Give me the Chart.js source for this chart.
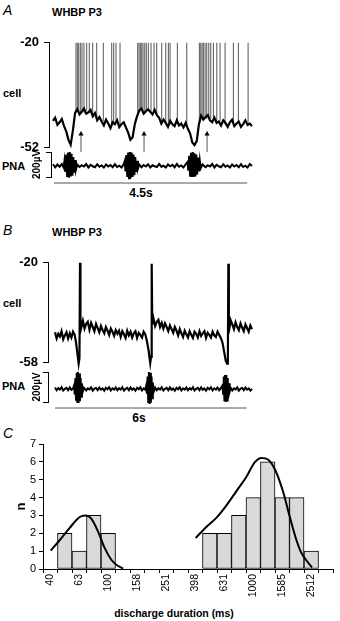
<!DOCTYPE html>
<html><head><meta charset="utf-8">
<script src="https://cdn.jsdelivr.net/npm/chart.js@4.4.1/dist/chart.umd.min.js"></script>
<style>
html,body{margin:0;padding:0;background:#fff;width:340px;height:621px;overflow:hidden;position:relative;font-family:"Liberation Sans",Arial,sans-serif;color:#000}
canvas{position:absolute}
.t{position:absolute;white-space:nowrap;line-height:1;transform:translateY(-50%)}
.c{transform:translate(-50%,-50%)}
.L{font-style:italic;font-size:14px}
.h{font-weight:bold;font-size:11px}
.b{font-weight:bold;font-size:11px}
.s{font-weight:bold;font-size:12px}
</style></head><body>
<div class="t L" style="left:3px;top:10px">A</div>
<div class="t h" style="left:52px;top:12px">WHBP P3</div>
<div class="t b" style="left:3px;top:93px">cell</div>
<div class="t b" style="left:2px;top:166px">PNA</div>
<div class="t s c" style="left:141px;top:193px">4.5s</div>
<div class="t L" style="left:3px;top:230px">B</div>
<div class="t h" style="left:52px;top:232px">WHBP P3</div>
<div class="t b" style="left:3px;top:303px">cell</div>
<div class="t b" style="left:2px;top:386px">PNA</div>
<div class="t s c" style="left:139px;top:418px">6s</div>
<div class="t L" style="left:3px;top:433px">C</div>
<div class="t c" style="left:174px;top:613px;font-weight:bold;font-size:10.5px">discharge duration (ms)</div>

<canvas id="cA" width="260" height="130" style="left:0;top:30px"></canvas>
<canvas id="pA" width="260" height="60" style="left:0;top:140px"></canvas>
<canvas id="cB" width="260" height="125" style="left:0;top:250px"></canvas>
<canvas id="pB" width="260" height="60" style="left:0;top:360px"></canvas>
<canvas id="cC" width="340" height="196" style="left:0;top:425px"></canvas>
<script>
// ---------- Panel A data (time in s, membrane potential in mV, PNA in uV) ----------
const tA = [0,0.05,0.1,0.15,0.2,0.25,0.3,0.35,0.4,0.45,0.5,0.55,0.6,0.65,0.7,0.75,0.8,0.85,0.9,0.95,
1,1.05,1.1,1.15,1.2,1.25,1.3,1.35,1.4,1.45,1.5,1.55,1.6,1.65,1.7,1.75,1.8,1.85,1.9,1.95,
2,2.05,2.1,2.15,2.2,2.25,2.3,2.35,2.4,2.45,2.5,2.55,2.6,2.65,2.7,2.75,2.8,2.85,2.9,2.95,
3,3.05,3.1,3.15,3.2,3.25,3.3,3.35,3.4,3.45,3.5,3.55,3.6,3.65,3.7,3.75,3.8,3.85,3.9,3.95,
4,4.05,4.1,4.15,4.2,4.25,4.3,4.35,4.4,4.45,4.5];
const cellA = [-44.0,-43.0,-45.2,-44.4,-43.4,-45.6,-47.2,-49.8,-51.3,-47.0,-41.5,-40.4,-42.0,-41.2,-40.2,-41.8,-41.4,-40.6,-42.6,-41.6,
-43.8,-42.8,-44.2,-45.4,-43.6,-44.8,-46.2,-44.4,-45.0,-43.8,-45.9,-45.0,-44.4,-46.0,-47.6,-49.8,-49.0,-45.0,-42.6,-40.8,
-40.2,-41.8,-41.0,-40.4,-41.2,-42.0,-40.6,-42.2,-43.0,-44.8,-43.6,-44.6,-45.8,-44.0,-45.0,-45.6,-43.8,-45.4,-44.8,-46.0,
-44.6,-46.4,-47.8,-50.6,-51.4,-50.2,-45.0,-42.4,-43.6,-42.8,-42.2,-43.8,-44.4,-43.0,-44.6,-44.2,-45.4,-43.8,-44.6,-45.8,
-44.4,-43.6,-45.6,-44.8,-44.2,-45.8,-45.0,-43.8,-45.2,-44.8,-45.6];
const spikesA_t = [0.520,0.550,0.581,0.618,0.656,0.701,0.762,0.821,0.898,0.989,1.138,1.328,1.373,1.425,1.516,
1.916,1.946,1.975,2.007,2.036,2.075,2.111,2.156,2.217,2.285,2.346,2.459,2.550,2.609,2.647,2.812,3.025,
3.310,3.342,3.371,3.400,3.439,3.477,3.523,3.568,3.627,3.704,3.778,3.891,4.079,4.192,4.412];
const spikesA_base = [-41.5,-41,-41.2,-41.5,-40.8,-41.4,-41,-41.5,-42.4,-43.2,-44.2,-45,-44.8,-44.5,-45.2,
-42,-41.2,-41,-40.6,-41,-41,-40.6,-41,-41,-41.2,-41.8,-44,-45,-44.4,-45,-44.8,-45.5,
-44.5,-43,-43,-43.2,-42.6,-43.4,-43.2,-43.2,-43.5,-44.2,-44,-45,-44.8,-44.6,-45];
const spikeTopA = -20;
const arrowsA_t = [0.633,2.059,3.484];
const arrowFromA = -53.5, arrowToA = -48;
const pnaA_t = [0,0.05,0.1,0.15,0.2,0.24,0.26,0.28,0.3,0.32,0.34,0.36,0.38,0.4,0.42,0.44,0.46,0.48,0.5,0.52,
0.55,0.6,0.65,0.7,0.75,0.8,0.85,0.9,0.95,1,1.05,1.1,1.15,1.2,1.25,1.3,1.35,1.4,1.45,1.5,1.55,1.6,
1.62,1.64,1.66,1.68,1.7,1.72,1.74,1.76,1.78,1.8,1.82,1.84,1.86,1.88,1.9,1.92,
1.95,2,2.05,2.1,2.15,2.2,2.25,2.3,2.35,2.4,2.45,2.5,2.55,2.6,2.65,2.7,2.75,2.8,2.85,2.9,2.95,3,
3.04,3.06,3.08,3.1,3.12,3.14,3.16,3.18,3.2,3.22,3.24,3.26,3.28,3.3,3.32,3.34,
3.38,3.45,3.5,3.55,3.6,3.65,3.7,3.75,3.8,3.85,3.9,3.95,4,4.05,4.1,4.15,4.2,4.25,4.3,4.35,4.4,4.45,4.5];
const pnaA_v = [2,-22,0,-18,4,-24,
30,-60,80,-100,95,-105,100,-95,85,-90,60,-65,35,-40,
0,-20,-6,-16,4,-24,-2,-14,-22,2,-18,-8,-24,0,-16,-4,-22,2,-20,-10,-24,4,
25,-55,75,-100,95,-110,100,-105,95,-100,80,-85,60,-60,30,-35,
0,-22,-4,-16,2,-24,-6,-14,-20,4,-18,-10,-24,0,-14,-2,-22,4,-18,-8,-24,2,
20,-50,70,-90,95,-100,100,-100,90,-95,80,-80,55,-55,30,-30,
0,-22,-6,-16,4,-24,-2,-14,-22,2,-18,-8,-24,0,-16,-4,-22,2,-20,-10,-24,4,-12];
const timeBarA = [0.02, 4.39];

// ---------- Panel B data ----------
const cellB_t = [0,0.05,0.1,0.15,0.2,0.25,0.3,0.35,0.4,0.45,0.5,0.55,0.6,0.64,0.68,0.72,0.745,0.762,0.775,0.8,
0.85,0.9,0.95,1,1.05,1.1,1.15,1.2,1.25,1.3,1.35,1.4,1.45,1.5,1.55,1.6,1.65,1.7,1.75,1.8,1.85,1.9,1.95,
2,2.05,2.1,2.15,2.2,2.25,2.3,2.35,2.4,2.45,2.5,2.55,2.6,2.65,2.7,2.75,2.8,2.85,2.9,2.925,2.945,2.96,2.98,
3,3.05,3.1,3.15,3.2,3.25,3.3,3.35,3.4,3.45,3.5,3.55,3.6,3.65,3.7,3.75,3.8,3.85,3.9,3.95,
4,4.05,4.1,4.15,4.2,4.25,4.3,4.35,4.4,4.45,4.5,4.55,4.6,4.65,4.7,4.75,4.8,4.85,4.9,4.95,
5,5.05,5.1,5.15,5.2,5.24,5.265,5.28,5.295,5.32,5.35,5.4,5.45,5.5,5.55,5.6,5.65,5.7,5.75,5.8,5.85,5.9,5.95,6];
const cellB_v = [-46.6,-49.0,-47.2,-48.2,-46.2,-49.3,-47.8,-46.6,-49.0,-47.0,-48.6,-46.4,-47.6,-50.5,-54.5,-58.6,-56.5,-20.0,-41.5,-44.8,
-42.2,-45.2,-43.4,-42.6,-45.6,-43.0,-44.6,-46.2,-43.4,-45.0,-46.6,-44.2,-45.8,-47.0,-44.6,-46.0,-47.6,-45.2,-46.4,-48.0,-45.8,-47.2,-46.0,
-48.4,-46.2,-47.4,-48.8,-46.0,-47.8,-46.4,-48.6,-47.0,-46.2,-48.8,-46.8,-47.6,-48.6,-46.4,-47.4,-50.0,-53.5,-58.4,-56.0,-20.4,-40.8,-43.6,
-41.4,-44.2,-42.6,-41.8,-44.6,-43.0,-45.2,-43.2,-44.6,-46.2,-44.0,-45.4,-46.8,-44.6,-46.0,-47.8,-45.4,-47.0,-48.4,-46.0,
-47.4,-48.6,-46.2,-47.6,-48.8,-46.4,-47.2,-48.6,-46.2,-48.0,-47.0,-46.2,-48.8,-46.8,-47.6,-48.6,-46.4,-47.8,-48.4,-46.4,
-47.6,-48.8,-50.5,-54.0,-57.5,-58.6,-56.5,-20.4,-41.5,-44.4,-42.0,-43.6,-45.4,-42.8,-44.6,-45.8,-43.2,-44.8,-46.2,-43.6,-45.0,-46.4,-44.0,-45.4];
const pnaB_t = [0,0.05,0.1,0.15,0.2,0.25,0.3,0.35,0.4,0.45,0.5,0.55,
0.58,0.6,0.62,0.64,0.66,0.68,0.7,0.72,0.74,0.76,0.78,0.8,0.82,0.84,
0.88,0.95,1,1.05,1.1,1.15,1.2,1.25,1.3,1.35,1.4,1.45,1.5,1.55,1.6,1.65,1.7,1.75,1.8,1.85,1.9,1.95,
2,2.05,2.1,2.15,2.2,2.25,2.3,2.35,2.4,2.45,2.5,2.55,2.6,2.65,2.7,2.75,
2.78,2.8,2.82,2.84,2.86,2.88,2.9,2.92,2.94,2.96,2.98,3,
3.05,3.1,3.15,3.2,3.25,3.3,3.35,3.4,3.45,3.5,3.55,3.6,3.65,3.7,3.75,3.8,3.85,3.9,3.95,
4,4.05,4.1,4.15,4.2,4.25,4.3,4.35,4.4,4.45,4.5,4.55,4.6,4.65,4.7,4.75,4.8,4.85,4.9,4.95,5,5.05,
5.1,5.12,5.14,5.16,5.18,5.2,5.22,5.24,5.26,5.28,5.3,5.32,
5.35,5.4,5.45,5.5,5.55,5.6,5.65,5.7,5.75,5.8,5.85,5.9,5.95,6];
const pnaB_v = [-4,-22,-8,-17,-1,-24,-12,-6,-21,-3,-19,-10,
10,-50,60,-85,95,-100,100,-105,90,-95,60,-65,25,-35,
-5,-23,-9,-16,-2,-24,-11,-6,-21,-3,-18,-10,-25,-5,-15,-2,-23,-9,-18,-4,
-22,-8,-17,-1,-24,-12,-6,-21,-3,-19,-10,-25,-5,-15,-2,-23,-9,-18,
10,-45,70,-100,100,-113,95,-105,70,-75,30,-35,
-4,-22,-8,-17,-1,-24,-12,-6,-21,-3,-19,-10,-25,-5,-15,-2,-23,-9,-18,-4,
-22,-8,-17,-1,-24,-12,-6,-21,-3,-19,-10,-25,-5,-15,-2,-23,-9,-18,-4,-22,-8,
10,-45,70,-95,80,-100,80,-90,60,-65,25,-30,
-5,-23,-9,-16,-2,-24,-11,-6,-21,-3,-18,-10,-25,-12];
const timeBarB = [0.0, 5.83];

// ---------- Panel C data ----------
const durationBins = ['40','50','63','79','100','126','158','200','251','316','398','501','631','794','1000','1259','1585','1995','2512','3162'];
const shownTickEvery = 2;
const counts = [0,2,1,3,2,0,0,0,0,0,0,2,2,3,4,6,4,4,1,0];
const fit1_bin = [0.03,0.65,1.34,2.03,2.44,2.83,3.29,3.75,4.21,4.56,5.02];
const fit1_n   = [1.03,1.61,2.30,2.91,3.00,2.82,2.11,1.18,0.52,0.24,0.02];
const fit2_bin = [10.03,10.76,11.45,12.14,12.83,13.52,14.10,14.56,15.02,15.52,16.05,16.51,16.97,17.32,17.66,18.05];
const fit2_n   = [1.74,2.35,2.86,3.55,4.35,5.15,5.97,6.22,6.13,5.53,4.35,2.95,1.64,0.90,0.49,0.09];

// ---------- helpers ----------
Chart.defaults.font.family = '"Liberation Sans", Arial, sans-serif';
Chart.defaults.color = '#000';
const fixW = w => ax => { ax.width = w; };
const fixH = h => ax => { ax.height = h; };
const xy = (ts, vs) => ts.map((t, i) => ({x: t, y: vs[i]}));
const base = {
  responsive: false, animation: false, devicePixelRatio: 1, events: [],
  plugins: {legend: {display: false}, tooltip: {enabled: false}}
};
function bracketY(min, max, w, labels, extra) {
  return Object.assign({
    min, max,
    afterFit: fixW(w),
    afterBuildTicks: ax => { ax.ticks = [{value: min}, {value: max}]; },
    grid: {drawOnChartArea: false, tickLength: 5, color: '#000', lineWidth: 1},
    border: {display: true, color: '#000', width: 1},
    ticks: labels ? {font: {size: 13, weight: 'bold'}, color: '#000', padding: 5}
                  : {display: true, callback: () => '', padding: 0}
  }, extra || {});
}
function traceDs(data, width, color) {
  return {data, borderColor: color || '#000', borderWidth: width, pointRadius: 0, tension: 0, clip: false, spanGaps: false};
}
function arrowDs(p0, p1, rot, r) {
  return {data: [p0, p1], borderColor: '#555', borderWidth: 1, pointRadius: [0, r], pointStyle: 'triangle',
    pointRotation: rot, pointBackgroundColor: '#000', pointBorderColor: '#000', pointBorderWidth: 0, clip: false};
}

// ---------- A : cell ----------
const spikePtsA = [];
spikesA_t.forEach((t, i) => spikePtsA.push({x: t, y: spikesA_base[i]}, {x: t, y: spikeTopA}, {x: t, y: null}));
new Chart(document.getElementById('cA'), {
  type: 'line',
  data: {datasets: [
    traceDs(xy(tA, cellA), 2.2),
    traceDs(spikePtsA, 1, '#555'),
    ...arrowsA_t.map(t => arrowDs({x: t, y: arrowFromA}, {x: t, y: arrowToA}, 0, 3))
  ]},
  options: Object.assign({}, base, {
    layout: {padding: {top: 12, right: 8, bottom: 13, left: 0}},
    scales: {
      x: {type: 'linear', min: -0.09, max: 4.5, display: false},
      y: bracketY(-52, -20, 49, true)
    }
  })
});

// ---------- A : PNA ----------
new Chart(document.getElementById('pA'), {
  type: 'line',
  data: {datasets: [
    traceDs(xy(pnaA_t, pnaA_v), 2),
    arrowDs({x: timeBarA[0], y: -148}, {x: timeBarA[1], y: -148}, 90, 3.5)
  ]},
  options: Object.assign({}, base, {
    layout: {padding: {top: 12, right: 8, bottom: 23, left: 0}},
    scales: {
      x: {type: 'linear', min: -0.045, max: 4.5, display: false},
      y: bracketY(-100, 100, 51, false, {title: {display: true, text: '200µV', font: {size: 10, weight: 'bold'}, color: '#000', padding: {top: 31, bottom: 0}}})
    }
  })
});

// ---------- B : cell ----------
new Chart(document.getElementById('cB'), {
  type: 'line',
  data: {datasets: [traceDs(xy(cellB_t, cellB_v), 2.2)]},
  options: Object.assign({}, base, {
    layout: {padding: {top: 12, right: 8, bottom: 13, left: 0}},
    scales: {
      x: {type: 'linear', min: -0.213, max: 6, display: false},
      y: bracketY(-58, -20, 48, true)
    }
  })
});

// ---------- B : PNA ----------
new Chart(document.getElementById('pB'), {
  type: 'line',
  data: {datasets: [
    traceDs(xy(pnaB_t, pnaB_v), 2),
    arrowDs({x: timeBarB[0], y: -140}, {x: timeBarB[1], y: -140}, 90, 3.5)
  ]},
  options: Object.assign({}, base, {
    layout: {padding: {top: 12, right: 8, bottom: 18, left: 0}},
    scales: {
      x: {type: 'linear', min: -0.213, max: 6, display: false},
      y: bracketY(-100, 100, 48, false, {title: {display: true, text: '200µV', font: {size: 10, weight: 'bold'}, color: '#000', padding: {top: 31, bottom: 0}}})
    }
  })
});

// ---------- C : histogram ----------
new Chart(document.getElementById('cC'), {
  type: 'bar',
  data: {
    labels: durationBins,
    datasets: [
      {type: 'line', xAxisID: 'x2', data: xy(fit1_bin, fit1_n), borderColor: '#000', borderWidth: 2, pointRadius: 0, cubicInterpolationMode: 'monotone', order: 0},
      {type: 'line', xAxisID: 'x2', data: xy(fit2_bin, fit2_n), borderColor: '#000', borderWidth: 2, pointRadius: 0, cubicInterpolationMode: 'monotone', order: 0},
      {type: 'bar', xAxisID: 'x', data: counts, backgroundColor: '#d9d9d9', borderColor: '#000', borderWidth: 1,
       borderSkipped: false, grouped: false, barPercentage: 1, categoryPercentage: 1, order: 1}
    ]
  },
  options: Object.assign({}, base, {
    layout: {padding: {top: 19, right: 7, bottom: 0, left: 0}},
    scales: {
      x: {type: 'category', offset: true, afterFit: fixH(52),
        grid: {offset: true, drawOnChartArea: false, tickLength: 4, color: '#000'},
        border: {display: true, color: '#000', width: 1},
        ticks: {autoSkip: false, minRotation: 90, maxRotation: 90, padding: 1, font: {size: 10.5}, color: '#000',
          callback: (v, i) => i % shownTickEvery === 0 ? durationBins[i] : ''}},
      x2: {type: 'linear', min: -0.5, max: 19.5, offset: false, display: false},
      y: {min: 0, max: 7, afterFit: fixW(43),
        grid: {drawOnChartArea: false, tickLength: 4, color: '#000'},
        border: {display: true, color: '#000', width: 1},
        ticks: {stepSize: 1, padding: 3, font: {size: 11}, color: '#000'},
        title: {display: true, text: 'n', font: {size: 13, weight: 'bold'}, color: '#000', padding: {top: 14, bottom: 0}}}
    }
  })
});
</script>
</body></html>
